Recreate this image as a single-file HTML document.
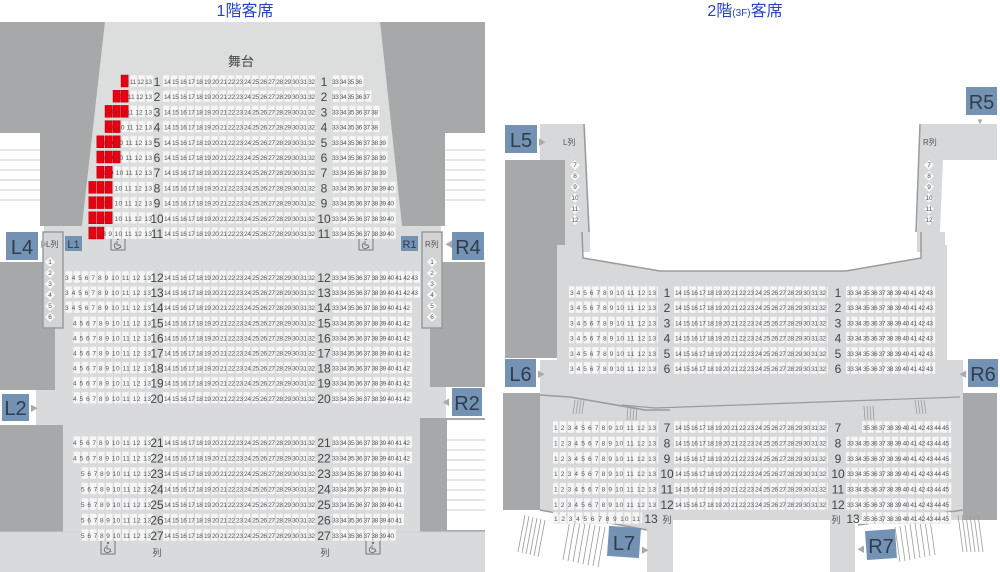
<!DOCTYPE html>
<html><head><meta charset="utf-8"><style>
html,body{margin:0;padding:0;background:#fff;}
svg{display:block;font-family:"Liberation Sans","Noto Sans CJK JP",sans-serif;}
.n{font-size:6.5px;fill:#555;}
.rl{font-size:12px;fill:#444;text-anchor:middle;}
.bx{fill:#7392b4;}
.bt{font-size:20px;fill:#2f3d4c;text-anchor:middle;}
.sm{font-size:8px;fill:#555;}
</style></head><body>
<svg width="1000" height="572" viewBox="0 0 1000 572" xmlns="http://www.w3.org/2000/svg">
<defs>
<pattern id="s" width="8.1" height="20" patternUnits="userSpaceOnUse"><rect x="0.4" y="0" width="7.2" height="12" fill="#f6f6f6" stroke="#cfcfcf" stroke-width="0.4"/></pattern>
<g id="wc"><rect x="-7" y="-7" width="14" height="14" fill="none" stroke="#777" stroke-width="1"/><circle cx="0" cy="-4" r="1.2" fill="#777"/><path d="M-1,-2 L-1,2 L2,2 L3,5 M-2,0 A3,3 0 1 0 2,4" fill="none" stroke="#777" stroke-width="1"/></g>
</defs>
<!-- titles -->
<text x="245" y="16" font-size="16" fill="#2742c8" text-anchor="middle">1階客席</text>
<text x="745" y="16" font-size="16" fill="#2742c8" text-anchor="middle">2階<tspan font-size="10">(3F)</tspan>客席</text>

<!-- 1F background -->
<rect x="0" y="22" width="485" height="550" fill="#d9dadb"/>
<polygon points="0,22 105,22 82,226 0,226" fill="#a7a8aa"/>
<polygon points="380,22 485,22 485,226 402,226" fill="#a7a8aa"/>
<polygon points="105,22 380,22 402,226 82,226" fill="#dcdddd"/>
<rect x="0" y="133" width="40" height="93" fill="#fff"/>
<g stroke="#ccc" stroke-width="1"><line x1="0" y1="150" x2="40" y2="150"/><line x1="0" y1="160" x2="40" y2="160"/><line x1="0" y1="170" x2="40" y2="170"/><line x1="0" y1="180" x2="40" y2="180"/><line x1="0" y1="190" x2="40" y2="190"/><line x1="0" y1="200" x2="40" y2="200"/></g>
<rect x="445" y="133" width="40" height="93" fill="#fff"/>
<g stroke="#ccc" stroke-width="1"><line x1="445" y1="150" x2="485" y2="150"/><line x1="445" y1="160" x2="485" y2="160"/><line x1="445" y1="170" x2="485" y2="170"/><line x1="445" y1="180" x2="485" y2="180"/><line x1="445" y1="190" x2="485" y2="190"/><line x1="445" y1="200" x2="485" y2="200"/></g>
<rect x="0" y="226" width="44" height="36" fill="#fff"/>
<rect x="0" y="262" width="55" height="128" fill="#a7a8aa"/>
<rect x="43" y="232" width="20" height="96" fill="#d2d3d4" stroke="#9a9b9d" stroke-width="1.5"/>
<rect x="0" y="390" width="36" height="35" fill="#fff"/>
<rect x="0" y="425" width="63" height="107" fill="#a7a8aa"/>
<rect x="441" y="226" width="44" height="36" fill="#fff"/>
<rect x="430" y="262" width="55" height="125" fill="#a7a8aa"/>
<rect x="422" y="232" width="20" height="96" fill="#d2d3d4" stroke="#9a9b9d" stroke-width="1.5"/>
<rect x="446" y="387" width="39" height="31" fill="#fff"/>
<rect x="420" y="418" width="65" height="114" fill="#a7a8aa"/>
<rect x="447" y="420" width="38" height="110" fill="#fff"/>
<g stroke="#ccc"><line x1="447" y1="440" x2="485" y2="440"/><line x1="447" y1="450" x2="485" y2="450"/><line x1="447" y1="460" x2="485" y2="460"/><line x1="447" y1="470" x2="485" y2="470"/><line x1="447" y1="480" x2="485" y2="480"/><line x1="447" y1="490" x2="485" y2="490"/><line x1="447" y1="500" x2="485" y2="500"/><line x1="447" y1="510" x2="485" y2="510"/></g>
<line x1="0" y1="532" x2="485" y2="532" stroke="#d0d0d0"/>

<text x="241" y="66" font-size="13" fill="#444" text-anchor="middle">舞台</text>

<!-- boxes 1F -->
<rect class="bx" x="6" y="232" width="32" height="28"/><text class="bt" x="22" y="254">L4</text>
<text x="40" y="247" font-size="8" fill="#aaa">▶</text><text x="46" y="247" class="sm">L列</text>
<rect class="bx" x="65" y="236" width="17" height="15"/><text x="73.5" y="248" font-size="11" fill="#2f3d4c" text-anchor="middle">L1</text>
<rect class="bx" x="401" y="236" width="17" height="15"/><text x="409.5" y="248" font-size="11" fill="#2f3d4c" text-anchor="middle">R1</text>
<text x="425" y="247" class="sm">R列</text><text x="445" y="247" font-size="8" fill="#aaa">◀</text>
<rect class="bx" x="452" y="232" width="32" height="28"/><text class="bt" x="468" y="254">R4</text>
<rect class="bx" x="2" y="394" width="27" height="27"/><text class="bt" x="15.5" y="415">L2</text>
<text x="30" y="411" font-size="8" fill="#aaa">▶</text>
<rect class="bx" x="452" y="388" width="30" height="28"/><text class="bt" x="467" y="410">R2</text>
<text x="442" y="405" font-size="8" fill="#aaa">◀</text>
<use href="#wc" x="118" y="243"/><use href="#wc" x="366" y="243"/><use href="#wc" x="108" y="547"/><use href="#wc" x="373" y="547"/>
<text x="157" y="556" font-size="9" fill="#555" text-anchor="middle">列</text>
<text x="325" y="556" font-size="9" fill="#555" text-anchor="middle">列</text>

<!-- L/R columns diamonds 1F -->
<g fill="#f6f6f6" stroke="#ccc" stroke-width="0.5">
<rect x="46" y="258" width="8" height="8" transform="rotate(45 50 262)"/><rect x="46" y="269" width="8" height="8" transform="rotate(45 50 273)"/><rect x="46" y="280" width="8" height="8" transform="rotate(45 50 284)"/><rect x="46" y="291" width="8" height="8" transform="rotate(45 50 295)"/><rect x="46" y="302" width="8" height="8" transform="rotate(45 50 306)"/><rect x="46" y="313" width="8" height="8" transform="rotate(45 50 317)"/>
<rect x="428" y="258" width="8" height="8" transform="rotate(45 432 262)"/><rect x="428" y="269" width="8" height="8" transform="rotate(45 432 273)"/><rect x="428" y="280" width="8" height="8" transform="rotate(45 432 284)"/><rect x="428" y="291" width="8" height="8" transform="rotate(45 432 295)"/><rect x="428" y="302" width="8" height="8" transform="rotate(45 432 306)"/><rect x="428" y="313" width="8" height="8" transform="rotate(45 432 317)"/>
</g>
<g class="n" text-anchor="middle"><text x="50" y="264">1</text><text x="50" y="275">2</text><text x="50" y="286">3</text><text x="50" y="297">4</text><text x="50" y="308">5</text><text x="50" y="319">6</text>
<text x="432" y="264">1</text><text x="432" y="275">2</text><text x="432" y="286">3</text><text x="432" y="297">4</text><text x="432" y="308">5</text><text x="432" y="319">6</text></g>

<!-- 1F rows 1-11 -->
<g id="front">
<g transform="translate(0,75)"><rect x="120.7" width="32.4" height="12" fill="url(#s)"/><text class="n" x="122" y="9" textLength="30" lengthAdjust="spacing">10 11 12 13</text><text class="rl" x="157" y="11">1</text><rect x="163" width="153.9" height="12" fill="url(#s)"/><text class="n" x="164" y="9" textLength="151" lengthAdjust="spacing">14 15 16 17 18 19 20 21 22 23 24 25 26 27 28 29 30 31 32</text><text class="rl" x="324" y="11">1</text><rect x="331" width="32.4" height="12" fill="url(#s)"/><text class="n" x="332" y="9" textLength="30" lengthAdjust="spacing">33 34 35 36</text></g>
<g transform="translate(0,90.2)"><rect x="112.6" width="40.5" height="12" fill="url(#s)"/><text class="n" x="114" y="9" textLength="38" lengthAdjust="spacing">9 10 11 12 13</text><text class="rl" x="157" y="11">2</text><rect x="163" width="153.9" height="12" fill="url(#s)"/><text class="n" x="164" y="9" textLength="151" lengthAdjust="spacing">14 15 16 17 18 19 20 21 22 23 24 25 26 27 28 29 30 31 32</text><text class="rl" x="324" y="11">2</text><rect x="331" width="40.5" height="12" fill="url(#s)"/><text class="n" x="332" y="9" textLength="38" lengthAdjust="spacing">33 34 35 36 37</text></g>
<g transform="translate(0,105.4)"><rect x="104.5" width="48.6" height="12" fill="url(#s)"/><text class="n" x="106" y="9" textLength="46" lengthAdjust="spacing">8 9 10 11 12 13</text><text class="rl" x="157" y="11">3</text><rect x="163" width="153.9" height="12" fill="url(#s)"/><text class="n" x="164" y="9" textLength="151" lengthAdjust="spacing">14 15 16 17 18 19 20 21 22 23 24 25 26 27 28 29 30 31 32</text><text class="rl" x="324" y="11">3</text><rect x="331" width="48.6" height="12" fill="url(#s)"/><text class="n" x="332" y="9" textLength="46" lengthAdjust="spacing">33 34 35 36 37 38</text></g>
<g transform="translate(0,120.6)"><rect x="104.5" width="48.6" height="12" fill="url(#s)"/><text class="n" x="106" y="9" textLength="46" lengthAdjust="spacing">8 9 10 11 12 13</text><text class="rl" x="157" y="11">4</text><rect x="163" width="153.9" height="12" fill="url(#s)"/><text class="n" x="164" y="9" textLength="151" lengthAdjust="spacing">14 15 16 17 18 19 20 21 22 23 24 25 26 27 28 29 30 31 32</text><text class="rl" x="324" y="11">4</text><rect x="331" width="48.6" height="12" fill="url(#s)"/><text class="n" x="332" y="9" textLength="46" lengthAdjust="spacing">33 34 35 36 37 38</text></g>
<g transform="translate(0,135.8)"><rect x="96.4" width="56.7" height="12" fill="url(#s)"/><text class="n" x="98" y="9" textLength="54" lengthAdjust="spacing">7 8 9 10 11 12 13</text><text class="rl" x="157" y="11">5</text><rect x="163" width="153.9" height="12" fill="url(#s)"/><text class="n" x="164" y="9" textLength="151" lengthAdjust="spacing">14 15 16 17 18 19 20 21 22 23 24 25 26 27 28 29 30 31 32</text><text class="rl" x="324" y="11">5</text><rect x="331" width="56.7" height="12" fill="url(#s)"/><text class="n" x="332" y="9" textLength="54" lengthAdjust="spacing">33 34 35 36 37 38 39</text></g>
<g transform="translate(0,151)"><rect x="96.4" width="56.7" height="12" fill="url(#s)"/><text class="n" x="98" y="9" textLength="54" lengthAdjust="spacing">7 8 9 10 11 12 13</text><text class="rl" x="157" y="11">6</text><rect x="163" width="153.9" height="12" fill="url(#s)"/><text class="n" x="164" y="9" textLength="151" lengthAdjust="spacing">14 15 16 17 18 19 20 21 22 23 24 25 26 27 28 29 30 31 32</text><text class="rl" x="324" y="11">6</text><rect x="331" width="56.7" height="12" fill="url(#s)"/><text class="n" x="332" y="9" textLength="54" lengthAdjust="spacing">33 34 35 36 37 38 39</text></g>
<g transform="translate(0,166.2)"><rect x="96.4" width="56.7" height="12" fill="url(#s)"/><text class="n" x="98" y="9" textLength="54" lengthAdjust="spacing">7 8 9 10 11 12 13</text><text class="rl" x="157" y="11">7</text><rect x="163" width="153.9" height="12" fill="url(#s)"/><text class="n" x="164" y="9" textLength="151" lengthAdjust="spacing">14 15 16 17 18 19 20 21 22 23 24 25 26 27 28 29 30 31 32</text><text class="rl" x="324" y="11">7</text><rect x="331" width="56.7" height="12" fill="url(#s)"/><text class="n" x="332" y="9" textLength="54" lengthAdjust="spacing">33 34 35 36 37 38 39</text></g>
<g transform="translate(0,181.4)"><rect x="88.3" width="64.8" height="12" fill="url(#s)"/><text class="n" x="90" y="9" textLength="62" lengthAdjust="spacing">6 7 8 9 10 11 12 13</text><text class="rl" x="157" y="11">8</text><rect x="163" width="153.9" height="12" fill="url(#s)"/><text class="n" x="164" y="9" textLength="151" lengthAdjust="spacing">14 15 16 17 18 19 20 21 22 23 24 25 26 27 28 29 30 31 32</text><text class="rl" x="324" y="11">8</text><rect x="331" width="64.8" height="12" fill="url(#s)"/><text class="n" x="332" y="9" textLength="62" lengthAdjust="spacing">33 34 35 36 37 38 39 40</text></g>
<g transform="translate(0,196.6)"><rect x="88.3" width="64.8" height="12" fill="url(#s)"/><text class="n" x="90" y="9" textLength="62" lengthAdjust="spacing">6 7 8 9 10 11 12 13</text><text class="rl" x="157" y="11">9</text><rect x="163" width="153.9" height="12" fill="url(#s)"/><text class="n" x="164" y="9" textLength="151" lengthAdjust="spacing">14 15 16 17 18 19 20 21 22 23 24 25 26 27 28 29 30 31 32</text><text class="rl" x="324" y="11">9</text><rect x="331" width="64.8" height="12" fill="url(#s)"/><text class="n" x="332" y="9" textLength="62" lengthAdjust="spacing">33 34 35 36 37 38 39 40</text></g>
<g transform="translate(0,211.8)"><rect x="88.3" width="64.8" height="12" fill="url(#s)"/><text class="n" x="90" y="9" textLength="62" lengthAdjust="spacing">6 7 8 9 10 11 12 13</text><text class="rl" x="157" y="11">10</text><rect x="163" width="153.9" height="12" fill="url(#s)"/><text class="n" x="164" y="9" textLength="151" lengthAdjust="spacing">14 15 16 17 18 19 20 21 22 23 24 25 26 27 28 29 30 31 32</text><text class="rl" x="324" y="11">10</text><rect x="331" width="64.8" height="12" fill="url(#s)"/><text class="n" x="332" y="9" textLength="62" lengthAdjust="spacing">33 34 35 36 37 38 39 40</text></g>
<g transform="translate(0,227)"><rect x="88.3" width="64.8" height="12" fill="url(#s)"/><text class="n" x="90" y="9" textLength="62" lengthAdjust="spacing">6 7 8 9 10 11 12 13</text><text class="rl" x="157" y="11">11</text><rect x="163" width="153.9" height="12" fill="url(#s)"/><text class="n" x="164" y="9" textLength="151" lengthAdjust="spacing">14 15 16 17 18 19 20 21 22 23 24 25 26 27 28 29 30 31 32</text><text class="rl" x="324" y="11">11</text><rect x="331" width="64.8" height="12" fill="url(#s)"/><text class="n" x="332" y="9" textLength="62" lengthAdjust="spacing">33 34 35 36 37 38 39 40</text></g>
</g>
<!-- red seats -->
<g fill="#e60012" stroke="#900" stroke-width="0.4">
<rect x="121" y="75" width="7.2" height="12"/>
<rect x="113" y="90.2" width="7.2" height="12"/><rect x="121" y="90.2" width="7.2" height="12"/>
<rect x="105" y="105.4" width="7.2" height="12"/><rect x="113" y="105.4" width="7.2" height="12"/><rect x="121" y="105.4" width="7.2" height="12"/>
<rect x="105" y="120.6" width="7.2" height="12"/><rect x="113" y="120.6" width="7.2" height="12"/>
<rect x="96.8" y="135.8" width="7.2" height="12"/><rect x="105" y="135.8" width="7.2" height="12"/><rect x="113" y="135.8" width="7.2" height="12"/>
<rect x="96.8" y="151" width="7.2" height="12"/><rect x="105" y="151" width="7.2" height="12"/><rect x="113" y="151" width="7.2" height="12"/>
<rect x="96.8" y="166.2" width="7.2" height="12"/><rect x="105" y="166.2" width="7.2" height="12"/>
<rect x="88.7" y="181.4" width="7.2" height="12"/><rect x="96.8" y="181.4" width="7.2" height="12"/><rect x="105" y="181.4" width="7.2" height="12"/>
<rect x="88.7" y="196.6" width="7.2" height="12"/><rect x="96.8" y="196.6" width="7.2" height="12"/><rect x="105" y="196.6" width="7.2" height="12"/>
<rect x="88.7" y="211.8" width="7.2" height="12"/><rect x="96.8" y="211.8" width="7.2" height="12"/><rect x="105" y="211.8" width="7.2" height="12"/>
<rect x="88.7" y="227" width="7.2" height="12"/><rect x="96.8" y="227" width="7.2" height="12"/>
</g>

<!-- 1F rows 12-20 -->
<g>
<g transform="translate(0,271)"><rect x="64" width="89.1" height="12" fill="url(#s)"/><text class="n" x="65" y="9" textLength="86" lengthAdjust="spacing">3 4 5 6 7 8 9 10 11 12 13</text><text class="rl" x="157" y="11">12</text><rect x="163" width="153.9" height="12" fill="url(#s)"/><text class="n" x="164" y="9" textLength="151" lengthAdjust="spacing">14 15 16 17 18 19 20 21 22 23 24 25 26 27 28 29 30 31 32</text><text class="rl" x="324" y="11">12</text><rect x="331" width="89.1" height="12" fill="url(#s)"/><text class="n" x="332" y="9" textLength="86" lengthAdjust="spacing">33 34 35 36 37 38 39 40 41 42 43</text></g>
<g transform="translate(0,286.1)"><rect x="64" width="89.1" height="12" fill="url(#s)"/><text class="n" x="65" y="9" textLength="86" lengthAdjust="spacing">3 4 5 6 7 8 9 10 11 12 13</text><text class="rl" x="157" y="11">13</text><rect x="163" width="153.9" height="12" fill="url(#s)"/><text class="n" x="164" y="9" textLength="151" lengthAdjust="spacing">14 15 16 17 18 19 20 21 22 23 24 25 26 27 28 29 30 31 32</text><text class="rl" x="324" y="11">13</text><rect x="331" width="89.1" height="12" fill="url(#s)"/><text class="n" x="332" y="9" textLength="86" lengthAdjust="spacing">33 34 35 36 37 38 39 40 41 42 43</text></g>
<g transform="translate(0,301.2)"><rect x="64" width="89.1" height="12" fill="url(#s)"/><text class="n" x="65" y="9" textLength="86" lengthAdjust="spacing">3 4 5 6 7 8 9 10 11 12 13</text><text class="rl" x="157" y="11">14</text><rect x="163" width="153.9" height="12" fill="url(#s)"/><text class="n" x="164" y="9" textLength="151" lengthAdjust="spacing">14 15 16 17 18 19 20 21 22 23 24 25 26 27 28 29 30 31 32</text><text class="rl" x="324" y="11">14</text><rect x="331" width="81" height="12" fill="url(#s)"/><text class="n" x="332" y="9" textLength="78" lengthAdjust="spacing">33 34 35 36 37 38 39 40 41 42</text></g>
<g transform="translate(0,316.3)"><rect x="72.1" width="81" height="12" fill="url(#s)"/><text class="n" x="73" y="9" textLength="78" lengthAdjust="spacing">4 5 6 7 8 9 10 11 12 13</text><text class="rl" x="157" y="11">15</text><rect x="163" width="153.9" height="12" fill="url(#s)"/><text class="n" x="164" y="9" textLength="151" lengthAdjust="spacing">14 15 16 17 18 19 20 21 22 23 24 25 26 27 28 29 30 31 32</text><text class="rl" x="324" y="11">15</text><rect x="331" width="81" height="12" fill="url(#s)"/><text class="n" x="332" y="9" textLength="78" lengthAdjust="spacing">33 34 35 36 37 38 39 40 41 42</text></g>
<g transform="translate(0,331.4)"><rect x="72.1" width="81" height="12" fill="url(#s)"/><text class="n" x="73" y="9" textLength="78" lengthAdjust="spacing">4 5 6 7 8 9 10 11 12 13</text><text class="rl" x="157" y="11">16</text><rect x="163" width="153.9" height="12" fill="url(#s)"/><text class="n" x="164" y="9" textLength="151" lengthAdjust="spacing">14 15 16 17 18 19 20 21 22 23 24 25 26 27 28 29 30 31 32</text><text class="rl" x="324" y="11">16</text><rect x="331" width="81" height="12" fill="url(#s)"/><text class="n" x="332" y="9" textLength="78" lengthAdjust="spacing">33 34 35 36 37 38 39 40 41 42</text></g>
<g transform="translate(0,346.5)"><rect x="72.1" width="81" height="12" fill="url(#s)"/><text class="n" x="73" y="9" textLength="78" lengthAdjust="spacing">4 5 6 7 8 9 10 11 12 13</text><text class="rl" x="157" y="11">17</text><rect x="163" width="153.9" height="12" fill="url(#s)"/><text class="n" x="164" y="9" textLength="151" lengthAdjust="spacing">14 15 16 17 18 19 20 21 22 23 24 25 26 27 28 29 30 31 32</text><text class="rl" x="324" y="11">17</text><rect x="331" width="81" height="12" fill="url(#s)"/><text class="n" x="332" y="9" textLength="78" lengthAdjust="spacing">33 34 35 36 37 38 39 40 41 42</text></g>
<g transform="translate(0,361.6)"><rect x="72.1" width="81" height="12" fill="url(#s)"/><text class="n" x="73" y="9" textLength="78" lengthAdjust="spacing">4 5 6 7 8 9 10 11 12 13</text><text class="rl" x="157" y="11">18</text><rect x="163" width="153.9" height="12" fill="url(#s)"/><text class="n" x="164" y="9" textLength="151" lengthAdjust="spacing">14 15 16 17 18 19 20 21 22 23 24 25 26 27 28 29 30 31 32</text><text class="rl" x="324" y="11">18</text><rect x="331" width="81" height="12" fill="url(#s)"/><text class="n" x="332" y="9" textLength="78" lengthAdjust="spacing">33 34 35 36 37 38 39 40 41 42</text></g>
<g transform="translate(0,376.7)"><rect x="72.1" width="81" height="12" fill="url(#s)"/><text class="n" x="73" y="9" textLength="78" lengthAdjust="spacing">4 5 6 7 8 9 10 11 12 13</text><text class="rl" x="157" y="11">19</text><rect x="163" width="153.9" height="12" fill="url(#s)"/><text class="n" x="164" y="9" textLength="151" lengthAdjust="spacing">14 15 16 17 18 19 20 21 22 23 24 25 26 27 28 29 30 31 32</text><text class="rl" x="324" y="11">19</text><rect x="331" width="81" height="12" fill="url(#s)"/><text class="n" x="332" y="9" textLength="78" lengthAdjust="spacing">33 34 35 36 37 38 39 40 41 42</text></g>
<g transform="translate(0,391.8)"><rect x="72.1" width="81" height="12" fill="url(#s)"/><text class="n" x="73" y="9" textLength="78" lengthAdjust="spacing">4 5 6 7 8 9 10 11 12 13</text><text class="rl" x="157" y="11">20</text><rect x="163" width="153.9" height="12" fill="url(#s)"/><text class="n" x="164" y="9" textLength="151" lengthAdjust="spacing">14 15 16 17 18 19 20 21 22 23 24 25 26 27 28 29 30 31 32</text><text class="rl" x="324" y="11">20</text><rect x="331" width="81" height="12" fill="url(#s)"/><text class="n" x="332" y="9" textLength="78" lengthAdjust="spacing">33 34 35 36 37 38 39 40 41 42</text></g>
</g>

<!-- 1F rows 21-27 -->
<g>
<g transform="translate(0,436)"><rect x="72.1" width="81" height="12" fill="url(#s)"/><text class="n" x="73" y="9" textLength="78" lengthAdjust="spacing">4 5 6 7 8 9 10 11 12 13</text><text class="rl" x="157" y="11">21</text><rect x="163" width="153.9" height="12" fill="url(#s)"/><text class="n" x="164" y="9" textLength="151" lengthAdjust="spacing">14 15 16 17 18 19 20 21 22 23 24 25 26 27 28 29 30 31 32</text><text class="rl" x="324" y="11">21</text><rect x="331" width="81" height="12" fill="url(#s)"/><text class="n" x="332" y="9" textLength="78" lengthAdjust="spacing">33 34 35 36 37 38 39 40 41 42</text></g>
<g transform="translate(0,451.5)"><rect x="72.1" width="81" height="12" fill="url(#s)"/><text class="n" x="73" y="9" textLength="78" lengthAdjust="spacing">4 5 6 7 8 9 10 11 12 13</text><text class="rl" x="157" y="11">22</text><rect x="163" width="153.9" height="12" fill="url(#s)"/><text class="n" x="164" y="9" textLength="151" lengthAdjust="spacing">14 15 16 17 18 19 20 21 22 23 24 25 26 27 28 29 30 31 32</text><text class="rl" x="324" y="11">22</text><rect x="331" width="81" height="12" fill="url(#s)"/><text class="n" x="332" y="9" textLength="78" lengthAdjust="spacing">33 34 35 36 37 38 39 40 41 42</text></g>
<g transform="translate(0,467)"><rect x="80.2" width="72.9" height="12" fill="url(#s)"/><text class="n" x="81" y="9" textLength="70" lengthAdjust="spacing">5 6 7 8 9 10 11 12 13</text><text class="rl" x="157" y="11">23</text><rect x="163" width="153.9" height="12" fill="url(#s)"/><text class="n" x="164" y="9" textLength="151" lengthAdjust="spacing">14 15 16 17 18 19 20 21 22 23 24 25 26 27 28 29 30 31 32</text><text class="rl" x="324" y="11">23</text><rect x="331" width="72.9" height="12" fill="url(#s)"/><text class="n" x="332" y="9" textLength="70" lengthAdjust="spacing">33 34 35 36 37 38 39 40 41</text></g>
<g transform="translate(0,482.5)"><rect x="80.2" width="72.9" height="12" fill="url(#s)"/><text class="n" x="81" y="9" textLength="70" lengthAdjust="spacing">5 6 7 8 9 10 11 12 13</text><text class="rl" x="157" y="11">24</text><rect x="163" width="153.9" height="12" fill="url(#s)"/><text class="n" x="164" y="9" textLength="151" lengthAdjust="spacing">14 15 16 17 18 19 20 21 22 23 24 25 26 27 28 29 30 31 32</text><text class="rl" x="324" y="11">24</text><rect x="331" width="72.9" height="12" fill="url(#s)"/><text class="n" x="332" y="9" textLength="70" lengthAdjust="spacing">33 34 35 36 37 38 39 40 41</text></g>
<g transform="translate(0,498)"><rect x="80.2" width="72.9" height="12" fill="url(#s)"/><text class="n" x="81" y="9" textLength="70" lengthAdjust="spacing">5 6 7 8 9 10 11 12 13</text><text class="rl" x="157" y="11">25</text><rect x="163" width="153.9" height="12" fill="url(#s)"/><text class="n" x="164" y="9" textLength="151" lengthAdjust="spacing">14 15 16 17 18 19 20 21 22 23 24 25 26 27 28 29 30 31 32</text><text class="rl" x="324" y="11">25</text><rect x="331" width="72.9" height="12" fill="url(#s)"/><text class="n" x="332" y="9" textLength="70" lengthAdjust="spacing">33 34 35 36 37 38 39 40 41</text></g>
<g transform="translate(0,513.5)"><rect x="80.2" width="72.9" height="12" fill="url(#s)"/><text class="n" x="81" y="9" textLength="70" lengthAdjust="spacing">5 6 7 8 9 10 11 12 13</text><text class="rl" x="157" y="11">26</text><rect x="163" width="153.9" height="12" fill="url(#s)"/><text class="n" x="164" y="9" textLength="151" lengthAdjust="spacing">14 15 16 17 18 19 20 21 22 23 24 25 26 27 28 29 30 31 32</text><text class="rl" x="324" y="11">26</text><rect x="331" width="72.9" height="12" fill="url(#s)"/><text class="n" x="332" y="9" textLength="70" lengthAdjust="spacing">33 34 35 36 37 38 39 40 41</text></g>
<g transform="translate(0,529)"><rect x="80.2" width="72.9" height="12" fill="url(#s)"/><text class="n" x="81" y="9" textLength="70" lengthAdjust="spacing">5 6 7 8 9 10 11 12 13</text><text class="rl" x="157" y="11">27</text><rect x="163" width="153.9" height="12" fill="url(#s)"/><text class="n" x="164" y="9" textLength="151" lengthAdjust="spacing">14 15 16 17 18 19 20 21 22 23 24 25 26 27 28 29 30 31 32</text><text class="rl" x="324" y="11">27</text><rect x="331" width="64.8" height="12" fill="url(#s)"/><text class="n" x="332" y="9" textLength="62" lengthAdjust="spacing">33 34 35 36 37 38 39 40</text></g>
</g>

<!-- 2F shapes -->
<polygon points="540,124 585,124 590,232 540,232" fill="#d7d8d9"/>
<line x1="584" y1="124" x2="589" y2="232" stroke="#9a9b9d" stroke-width="1.5"/>
<polygon points="920,124 997,124 997,160 943,160 940,232 917,232" fill="#d7d8d9"/>
<line x1="920" y1="124" x2="916" y2="232" stroke="#9a9b9d" stroke-width="1.5"/>
<rect x="505" y="160" width="60" height="198" fill="#a7a8aa"/>
<polygon points="557,245 583,245 583,258 660,271 846,271 921,258 921,245 947,245 947,360 963,360 963,393 540,393 540,360 557,360" fill="#d7d8d9"/>
<rect x="565" y="232" width="25" height="20" fill="#d7d8d9"/><rect x="917" y="232" width="28" height="20" fill="#d7d8d9"/>
<polyline points="582,232 583,258 660,271 846,271 921,258 921,232" fill="none" stroke="#9a9b9d" stroke-width="1.5"/>
<rect x="503" y="393" width="38" height="117" fill="#a7a8aa"/>
<rect x="963" y="393" width="34" height="127" fill="#a7a8aa"/>
<polygon points="540,393 963,393 963,520 855,520 855,572 830,572 830,520 673,520 673,572 647,572 647,530 540,510" fill="#d7d8d9"/>
<polyline points="540,395 570,397 645,410 670,410" fill="none" stroke="#9a9b9d" stroke-width="1.5"/>
<polyline points="622,405 655,408 960,397" fill="none" stroke="#9a9b9d" stroke-width="1.2"/>
<polyline points="540,510 647,530" fill="none" stroke="#9a9b9d" stroke-width="1.5"/>
<polyline points="858,525 963,510" fill="none" stroke="#9a9b9d" stroke-width="1.5"/>
<g stroke="#9a9b9d" stroke-width="0.8">
<line x1="575" y1="400" x2="573" y2="414"/><line x1="578" y1="400" x2="576" y2="414"/><line x1="581" y1="400" x2="579" y2="414"/><line x1="584" y1="400" x2="582" y2="414"/>
<line x1="628" y1="406" x2="627" y2="420"/><line x1="631" y1="406" x2="630" y2="420"/><line x1="634" y1="406" x2="633" y2="420"/><line x1="637" y1="406" x2="636" y2="420"/>
<line x1="864" y1="406" x2="865" y2="420"/><line x1="867" y1="406" x2="868" y2="420"/><line x1="870" y1="406" x2="871" y2="420"/><line x1="873" y1="406" x2="874" y2="420"/>
<line x1="915" y1="400" x2="917" y2="414"/><line x1="918" y1="400" x2="920" y2="414"/><line x1="921" y1="400" x2="923" y2="414"/><line x1="924" y1="400" x2="926" y2="414"/>
<line x1="525" y1="515" x2="518" y2="552"/><line x1="529" y1="516" x2="522" y2="553"/><line x1="533" y1="517" x2="526" y2="554"/><line x1="537" y1="518" x2="530" y2="555"/><line x1="541" y1="519" x2="534" y2="556"/><line x1="545" y1="520" x2="538" y2="557"/>
<line x1="570" y1="520" x2="563" y2="560"/><line x1="575" y1="521" x2="568" y2="561"/><line x1="580" y1="522" x2="573" y2="562"/><line x1="585" y1="523" x2="578" y2="563"/><line x1="590" y1="524" x2="583" y2="564"/><line x1="595" y1="525" x2="588" y2="565"/><line x1="600" y1="526" x2="593" y2="566"/><line x1="605" y1="527" x2="598" y2="567"/>
<line x1="895" y1="527" x2="900" y2="562"/><line x1="900" y1="526" x2="905" y2="561"/><line x1="905" y1="525" x2="910" y2="560"/><line x1="910" y1="524" x2="915" y2="559"/><line x1="915" y1="523" x2="920" y2="558"/><line x1="920" y1="522" x2="925" y2="557"/><line x1="925" y1="521" x2="930" y2="556"/><line x1="930" y1="520" x2="935" y2="555"/>
<line x1="958" y1="515" x2="963" y2="552"/><line x1="962" y1="515" x2="967" y2="552"/><line x1="966" y1="515" x2="971" y2="552"/><line x1="970" y1="515" x2="975" y2="552"/><line x1="974" y1="515" x2="979" y2="552"/><line x1="978" y1="515" x2="983" y2="552"/>
</g>

<!-- 2F boxes -->
<rect class="bx" x="505" y="125" width="32" height="28"/><text class="bt" x="521" y="147">L5</text>
<text x="538" y="145" font-size="8" fill="#aaa">▶</text><text x="563" y="145" class="sm">L列</text>
<rect class="bx" x="966" y="87" width="31" height="28"/><text class="bt" x="981.5" y="109">R5</text>
<text x="976" y="124" font-size="8" fill="#aaa">▼</text><text x="923" y="145" class="sm">R列</text>
<rect class="bx" x="505" y="359" width="31" height="28"/><text class="bt" x="520.5" y="381">L6</text>
<text x="537" y="377" font-size="8" fill="#aaa">▶</text>
<rect class="bx" x="968" y="359" width="30" height="28"/><text class="bt" x="983" y="381">R6</text>
<text x="959" y="377" font-size="8" fill="#aaa">◀</text>
<rect class="bx" x="608" y="527" width="32" height="30" transform="rotate(4 624 542)"/><text class="bt" x="624" y="550">L7</text>
<text x="641" y="553" font-size="8" fill="#aaa">▶</text>
<rect class="bx" x="866" y="530" width="30" height="29" transform="rotate(-4 881 545)"/><text class="bt" x="881" y="553">R7</text>
<text x="857" y="552" font-size="8" fill="#aaa">◀</text>

<g fill="#f6f6f6" stroke="#ccc" stroke-width="0.5">
<rect x="571" y="161" width="8" height="8" transform="rotate(45 575 165)"/><rect x="571" y="172" width="8" height="8" transform="rotate(45 575 176)"/><rect x="571" y="183" width="8" height="8" transform="rotate(45 575 187)"/><rect x="571" y="194" width="8" height="8" transform="rotate(45 575 198)"/><rect x="571" y="205" width="8" height="8" transform="rotate(45 575 209)"/><rect x="571" y="216" width="8" height="8" transform="rotate(45 575 220)"/>
<rect x="925" y="161" width="8" height="8" transform="rotate(45 929 165)"/><rect x="925" y="172" width="8" height="8" transform="rotate(45 929 176)"/><rect x="925" y="183" width="8" height="8" transform="rotate(45 929 187)"/><rect x="925" y="194" width="8" height="8" transform="rotate(45 929 198)"/><rect x="925" y="205" width="8" height="8" transform="rotate(45 929 209)"/><rect x="925" y="216" width="8" height="8" transform="rotate(45 929 220)"/>
</g>
<g class="n" text-anchor="middle"><text x="575" y="167">7</text><text x="575" y="178">8</text><text x="575" y="189">9</text><text x="575" y="200">10</text><text x="575" y="211">11</text><text x="575" y="222">12</text>
<text x="929" y="167">7</text><text x="929" y="178">8</text><text x="929" y="189">9</text><text x="929" y="200">10</text><text x="929" y="211">11</text><text x="929" y="222">12</text></g>

<!-- 2F rows 1-6 -->
<g>
<g transform="translate(0,286)"><rect x="569" width="89.1" height="12" fill="url(#s)"/><text class="n" x="570" y="9" textLength="86" lengthAdjust="spacing">3 4 5 6 7 8 9 10 11 12 13</text><text class="rl" x="667" y="11">1</text><rect x="674" width="153.9" height="12" fill="url(#s)"/><text class="n" x="675" y="9" textLength="151" lengthAdjust="spacing">14 15 16 17 18 19 20 21 22 23 24 25 26 27 28 29 30 31 32</text><text class="rl" x="838" y="11">1</text><rect x="846" width="89.1" height="12" fill="url(#s)"/><text class="n" x="847" y="9" textLength="86" lengthAdjust="spacing">33 34 35 36 37 38 39 40 41 42 43</text></g>
<g transform="translate(0,301.2)"><rect x="569" width="89.1" height="12" fill="url(#s)"/><text class="n" x="570" y="9" textLength="86" lengthAdjust="spacing">3 4 5 6 7 8 9 10 11 12 13</text><text class="rl" x="667" y="11">2</text><rect x="674" width="153.9" height="12" fill="url(#s)"/><text class="n" x="675" y="9" textLength="151" lengthAdjust="spacing">14 15 16 17 18 19 20 21 22 23 24 25 26 27 28 29 30 31 32</text><text class="rl" x="838" y="11">2</text><rect x="846" width="89.1" height="12" fill="url(#s)"/><text class="n" x="847" y="9" textLength="86" lengthAdjust="spacing">33 34 35 36 37 38 39 40 41 42 43</text></g>
<g transform="translate(0,316.4)"><rect x="569" width="89.1" height="12" fill="url(#s)"/><text class="n" x="570" y="9" textLength="86" lengthAdjust="spacing">3 4 5 6 7 8 9 10 11 12 13</text><text class="rl" x="667" y="11">3</text><rect x="674" width="153.9" height="12" fill="url(#s)"/><text class="n" x="675" y="9" textLength="151" lengthAdjust="spacing">14 15 16 17 18 19 20 21 22 23 24 25 26 27 28 29 30 31 32</text><text class="rl" x="838" y="11">3</text><rect x="846" width="89.1" height="12" fill="url(#s)"/><text class="n" x="847" y="9" textLength="86" lengthAdjust="spacing">33 34 35 36 37 38 39 40 41 42 43</text></g>
<g transform="translate(0,331.6)"><rect x="569" width="89.1" height="12" fill="url(#s)"/><text class="n" x="570" y="9" textLength="86" lengthAdjust="spacing">3 4 5 6 7 8 9 10 11 12 13</text><text class="rl" x="667" y="11">4</text><rect x="674" width="153.9" height="12" fill="url(#s)"/><text class="n" x="675" y="9" textLength="151" lengthAdjust="spacing">14 15 16 17 18 19 20 21 22 23 24 25 26 27 28 29 30 31 32</text><text class="rl" x="838" y="11">4</text><rect x="846" width="89.1" height="12" fill="url(#s)"/><text class="n" x="847" y="9" textLength="86" lengthAdjust="spacing">33 34 35 36 37 38 39 40 41 42 43</text></g>
<g transform="translate(0,346.8)"><rect x="569" width="89.1" height="12" fill="url(#s)"/><text class="n" x="570" y="9" textLength="86" lengthAdjust="spacing">3 4 5 6 7 8 9 10 11 12 13</text><text class="rl" x="667" y="11">5</text><rect x="674" width="153.9" height="12" fill="url(#s)"/><text class="n" x="675" y="9" textLength="151" lengthAdjust="spacing">14 15 16 17 18 19 20 21 22 23 24 25 26 27 28 29 30 31 32</text><text class="rl" x="838" y="11">5</text><rect x="846" width="89.1" height="12" fill="url(#s)"/><text class="n" x="847" y="9" textLength="86" lengthAdjust="spacing">33 34 35 36 37 38 39 40 41 42 43</text></g>
<g transform="translate(0,362)"><rect x="569" width="89.1" height="12" fill="url(#s)"/><text class="n" x="570" y="9" textLength="86" lengthAdjust="spacing">3 4 5 6 7 8 9 10 11 12 13</text><text class="rl" x="667" y="11">6</text><rect x="674" width="153.9" height="12" fill="url(#s)"/><text class="n" x="675" y="9" textLength="151" lengthAdjust="spacing">14 15 16 17 18 19 20 21 22 23 24 25 26 27 28 29 30 31 32</text><text class="rl" x="838" y="11">6</text><rect x="846" width="89.1" height="12" fill="url(#s)"/><text class="n" x="847" y="9" textLength="86" lengthAdjust="spacing">33 34 35 36 37 38 39 40 41 42 43</text></g>
</g>

<!-- 2F rows 7-13 -->
<g>
<g transform="translate(0,421)"><rect x="553" width="105.3" height="12" fill="url(#s)"/><text class="n" x="554" y="9" textLength="102" lengthAdjust="spacing">1 2 3 4 5 6 7 8 9 10 11 12 13</text><text class="rl" x="667" y="11">7</text><rect x="674" width="153.9" height="12" fill="url(#s)"/><text class="n" x="675" y="9" textLength="151" lengthAdjust="spacing">14 15 16 17 18 19 20 21 22 23 24 25 26 27 28 29 30 31 32</text><text class="rl" x="838" y="11">7</text><rect x="862" width="89.1" height="12" fill="url(#s)"/><text class="n" x="863" y="9" textLength="86" lengthAdjust="spacing">35 36 37 38 39 40 41 42 43 44 45</text></g>
<g transform="translate(0,436.4)"><rect x="553" width="105.3" height="12" fill="url(#s)"/><text class="n" x="554" y="9" textLength="102" lengthAdjust="spacing">1 2 3 4 5 6 7 8 9 10 11 12 13</text><text class="rl" x="667" y="11">8</text><rect x="674" width="153.9" height="12" fill="url(#s)"/><text class="n" x="675" y="9" textLength="151" lengthAdjust="spacing">14 15 16 17 18 19 20 21 22 23 24 25 26 27 28 29 30 31 32</text><text class="rl" x="838" y="11">8</text><rect x="846" width="105.3" height="12" fill="url(#s)"/><text class="n" x="847" y="9" textLength="102" lengthAdjust="spacing">33 34 35 36 37 38 39 40 41 42 43 44 45</text></g>
<g transform="translate(0,451.8)"><rect x="553" width="105.3" height="12" fill="url(#s)"/><text class="n" x="554" y="9" textLength="102" lengthAdjust="spacing">1 2 3 4 5 6 7 8 9 10 11 12 13</text><text class="rl" x="667" y="11">9</text><rect x="674" width="153.9" height="12" fill="url(#s)"/><text class="n" x="675" y="9" textLength="151" lengthAdjust="spacing">14 15 16 17 18 19 20 21 22 23 24 25 26 27 28 29 30 31 32</text><text class="rl" x="838" y="11">9</text><rect x="846" width="105.3" height="12" fill="url(#s)"/><text class="n" x="847" y="9" textLength="102" lengthAdjust="spacing">33 34 35 36 37 38 39 40 41 42 43 44 45</text></g>
<g transform="translate(0,467.2)"><rect x="553" width="105.3" height="12" fill="url(#s)"/><text class="n" x="554" y="9" textLength="102" lengthAdjust="spacing">1 2 3 4 5 6 7 8 9 10 11 12 13</text><text class="rl" x="667" y="11">10</text><rect x="674" width="153.9" height="12" fill="url(#s)"/><text class="n" x="675" y="9" textLength="151" lengthAdjust="spacing">14 15 16 17 18 19 20 21 22 23 24 25 26 27 28 29 30 31 32</text><text class="rl" x="838" y="11">10</text><rect x="846" width="105.3" height="12" fill="url(#s)"/><text class="n" x="847" y="9" textLength="102" lengthAdjust="spacing">33 34 35 36 37 38 39 40 41 42 43 44 45</text></g>
<g transform="translate(0,482.6)"><rect x="553" width="105.3" height="12" fill="url(#s)"/><text class="n" x="554" y="9" textLength="102" lengthAdjust="spacing">1 2 3 4 5 6 7 8 9 10 11 12 13</text><text class="rl" x="667" y="11">11</text><rect x="674" width="153.9" height="12" fill="url(#s)"/><text class="n" x="675" y="9" textLength="151" lengthAdjust="spacing">14 15 16 17 18 19 20 21 22 23 24 25 26 27 28 29 30 31 32</text><text class="rl" x="838" y="11">11</text><rect x="846" width="105.3" height="12" fill="url(#s)"/><text class="n" x="847" y="9" textLength="102" lengthAdjust="spacing">33 34 35 36 37 38 39 40 41 42 43 44 45</text></g>
<g transform="translate(0,498)"><rect x="553" width="105.3" height="12" fill="url(#s)"/><text class="n" x="554" y="9" textLength="102" lengthAdjust="spacing">1 2 3 4 5 6 7 8 9 10 11 12 13</text><text class="rl" x="667" y="11">12</text><rect x="674" width="153.9" height="12" fill="url(#s)"/><text class="n" x="675" y="9" textLength="151" lengthAdjust="spacing">14 15 16 17 18 19 20 21 22 23 24 25 26 27 28 29 30 31 32</text><text class="rl" x="838" y="11">12</text><rect x="846" width="105.3" height="12" fill="url(#s)"/><text class="n" x="847" y="9" textLength="102" lengthAdjust="spacing">33 34 35 36 37 38 39 40 41 42 43 44 45</text></g>
<g transform="translate(0,512)"><rect x="553" width="89.1" height="12" fill="url(#s)"/><text class="n" x="554" y="9" textLength="86" lengthAdjust="spacing">1 2 3 4 5 6 7 8 9 10 11</text><text class="rl" x="651" y="11">13</text><text x="667" y="11" font-size="9" fill="#555" text-anchor="middle">列</text><text x="836" y="11" font-size="9" fill="#555" text-anchor="middle">列</text><text class="rl" x="853" y="11">13</text><rect x="862" width="89.1" height="12" fill="url(#s)"/><text class="n" x="863" y="9" textLength="86" lengthAdjust="spacing">35 36 37 38 39 40 41 42 43 44 45</text></g>
</g>
</svg>
</body></html>
